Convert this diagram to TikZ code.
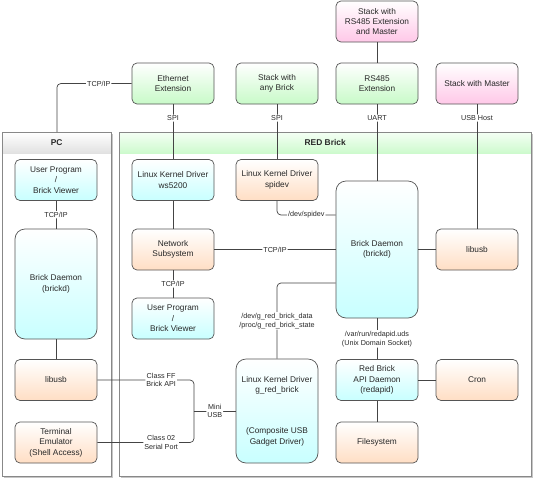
\documentclass[tikz,border=0pt]{standalone}
\usepackage{fontspec}
\setmainfont{Liberation Sans}
\definecolor{gbot}{RGB}{200,250,200}
\definecolor{pbot}{RGB}{255,200,232}
\definecolor{cbot}{RGB}{200,255,255}
\definecolor{obot}{RGB}{255,222,196}
\definecolor{edge}{RGB}{85,85,85}
\definecolor{txt}{RGB}{40,40,40}
\definecolor{hgreen}{RGB}{205,250,205}
\definecolor{hgray}{RGB}{225,225,225}
\tikzset{
  box/.style={draw=edge, line width=0.7pt, rounded corners=5pt, minimum width=82pt,
    minimum height=41pt, align=center, inner sep=1pt, text=txt,
    font=\fontsize{8.3}{10.4}\selectfont, top color=white},
  gbox/.style={box, bottom color=gbot},
  pbox/.style={box, bottom color=pbot},
  cbox/.style={box, bottom color=cbot},
  obox/.style={box, bottom color=obot},
  lbl/.style={fill=white, inner sep=1pt, font=\fontsize{7.2}{8.8}\selectfont, text=txt, align=center},
  conn/.style={draw=edge!80!black, line width=0.7pt, rounded corners=4pt},
  container/.style={draw=edge!70, line width=0.8pt, fill=white, anchor=north west, inner sep=0pt},
  header/.style={anchor=north west, inner sep=0pt, minimum height=21pt, text=txt,
    font=\fontsize{8.4}{10}\selectfont\bfseries},
}
\begin{document}
\begin{tikzpicture}[x=1pt,y=-1pt]
\useasboundingbox (0,0) rectangle (533,480);
% containers
\fill[gray!45] (3.5,133.5) rectangle (112.5,477.5);
\fill[gray!45] (120.5,133.5) rectangle (532.5,477.5);
\node[container, minimum width=109pt, minimum height=344pt] (pc) at (2,132) {};
\node[container, minimum width=412pt, minimum height=344pt] (red) at (119,132) {};
\node[header, minimum width=109pt, top color=white, bottom color=hgray] (pchead) at (2,132) {PC};
\node[header, minimum width=412pt, top color=green!4, bottom color=hgreen] (redhead) at (119,132) {RED Brick};
\draw[edge!70, line width=0.8pt] (pc.north west) rectangle (pc.south east);
\draw[edge!70, line width=0.8pt] (red.north west) rectangle (red.south east);

% boxes outside
\node[pbox] (rsstack) at (377,21.5) {Stack with\\RS485 Extension\\and Master};
\node[gbox] (eth) at (173,83.5) {Ethernet\\Extension};
\node[gbox] (any) at (277,83.5) {Stack with\\any Brick};
\node[gbox] (rs485) at (377,83.5) {RS485\\Extension};
\node[pbox] (master) at (477,83.5) {Stack with Master};

% PC
\node[cbox] (uppc) at (56,180) {User Program\\/\\Brick Viewer};
\node[cbox, rounded corners=10pt, minimum height=110pt] (bdpc) at (56,284) {Brick Daemon\\(brickd)};
\node[obox] (libusbpc) at (56,380) {libusb};
\node[obox] (term) at (56,442.5) {Terminal\\Emulator\\(Shell Access)};

% RED Brick
\node[cbox] (ws) at (173,180) {Linux Kernel Driver\\ws5200};
\node[obox] (spidev) at (277,180) {Linux Kernel Driver\\spidev};
\node[obox] (net) at (173,249.5) {Network\\Subsystem};
\node[cbox] (upred) at (173,318.5) {User Program\\/\\Brick Viewer};
\node[cbox, rounded corners=10pt, minimum height=137pt] (bdred) at (377,249.5) {Brick Daemon\\(brickd)};
\node[obox] (libusbred) at (477,249.5) {libusb};
\node[cbox, rounded corners=10pt, minimum height=104pt] (grb) at (277,411) {Linux Kernel Driver\\g\_red\_brick\\[31pt](Composite USB\\Gadget Driver)};
\node[cbox] (api) at (377,380) {Red Brick\\API Daemon\\(redapid)};
\node[obox] (cron) at (477,380) {Cron};
\node[obox] (fs) at (377,442.5) {Filesystem};

\coordinate (mu) at (194,411);

% connectors
\begin{scope}[on background layer/.style={}]
\draw[conn] (eth.west) -| node[lbl, pos=0.22] {TCP/IP} (pc.north);
\draw[conn] (eth) -- node[lbl, pos=0.25] {SPI} (ws);
\draw[conn] (any) -- node[lbl, pos=0.25] {SPI} (spidev);
\draw[conn] (rsstack) -- (rs485);
\draw[conn] (rs485) -- node[lbl, pos=0.18] {UART} (bdred);
\draw[conn] (master) -- node[lbl, pos=0.11] {USB Host} (libusbred);
\draw[conn] (ws) -- (net);
\draw[conn] (net) -- node[lbl] {TCP/IP} (upred);
\draw[conn] (net) -- node[lbl] {TCP/IP} (bdred);
\draw[conn] (bdred) -- (libusbred);
\draw[conn] (spidev.south) |- node[lbl, pos=0.75] {/dev/spidev} ([yshift=34.5pt]bdred.west);
\draw[conn] ([yshift=-33.5pt]bdred.west) -| node[lbl, pos=0.75] {/dev/g\_red\_brick\_data\\/proc/g\_red\_brick\_state} (grb.north);
\draw[conn] (bdred) -- node[lbl] {/var/run/redapid.uds\\(Unix Domain Socket)} (api);
\draw[conn] (api) -- (cron);
\draw[conn] (api) -- (fs);
\draw[conn] (uppc) -- node[lbl] {TCP/IP} (bdpc);
\draw[conn] (bdpc) -- (libusbpc);
\draw[conn] (libusbpc.east) -| node[lbl, pos=0.33] {Class FF\\Brick API} (mu);
\draw[conn] (term.east) -| node[lbl, pos=0.33] {Class 02\\Serial Port} (mu);
\draw[conn] (mu) -- node[lbl] {Mini\\USB} (grb.west);
\end{scope}
\end{tikzpicture}
\end{document}
